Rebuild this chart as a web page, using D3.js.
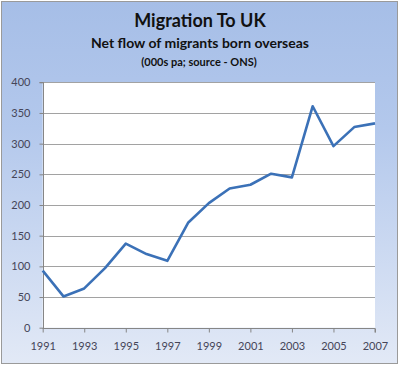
<!DOCTYPE html>
<html><head><meta charset="utf-8">
<script src="https://cdn.jsdelivr.net/npm/d3@7"></script>
<style>body{margin:0;background:#fff}svg{display:block}</style>
</head><body>
<svg id="c" width="400" height="366"></svg>
<script>
const years = [1991,1992,1993,1994,1995,1996,1997,1998,1999,2000,2001,2002,2003,2004,2005,2006,2007];
const migrants = [93,51,64,97,137,120,109,171,203,227,233,251,245,361,296,327,333];
const yTicks = [0,50,100,150,200,250,300,350,400];
const xTickLabels = [1991,1993,1995,1997,1999,2001,2003,2005,2007];
const titles = ["Migration To UK","Net flow of migrants born overseas","(000s pa; source - ONS)"];

const svg = d3.select("#c");
const defs = svg.append("defs");
const g = defs.append("linearGradient").attr("id","bg").attr("x1",0).attr("y1",0).attr("x2",0).attr("y2",1);
g.append("stop").attr("offset","0").attr("stop-color","#a6bee7");
g.append("stop").attr("offset","0.35").attr("stop-color","#b3c8ec");
g.append("stop").attr("offset","1").attr("stop-color","#e2e9f6");

svg.append("rect").attr("x",1.5).attr("y",1.5).attr("width",396).attr("height",362)
  .attr("fill","url(#bg)").attr("stroke","#9a9a9a").attr("stroke-width",1);

const m = {l:42.7, r:375, t:82.3, b:327.7};
const x = d3.scaleLinear().domain([1991,2007]).range([m.l,m.r]);
const y = d3.scaleLinear().domain([0,400]).range([m.b,m.t]);

svg.append("rect").attr("x",m.l).attr("y",m.t).attr("width",m.r-m.l).attr("height",m.b-m.t).attr("fill","#fff");

// gridlines
svg.append("g").selectAll("line").data(yTicks.filter(d=>d>0)).join("line")
  .attr("x1",m.l).attr("x2",m.r).attr("y1",d=>Math.round(y(d))+0.5).attr("y2",d=>Math.round(y(d))+0.5)
  .attr("stroke","#a2a2a2").attr("stroke-width",1);

const lf = "Lato, 'Open Sans', sans-serif";
// y axis
const ya = svg.append("g").attr("transform",`translate(${Math.round(m.l)+0.5},0)`)
  .call(d3.axisLeft(y).tickValues(yTicks).tickSize(4).tickPadding(9));
ya.select(".domain").attr("stroke","#868686").attr("d",`M-4,${Math.round(m.t)+0.5}H0V${Math.round(m.b)+0.5}`);
ya.selectAll(".tick line").attr("stroke","#868686");
ya.selectAll(".tick text").attr("fill","#454558").style("font-family",lf).style("font-size","11px");

// x axis
const xa = svg.append("g").attr("transform",`translate(0,${Math.round(m.b)+0.5})`)
  .call(d3.axisBottom(x).tickValues(xTickLabels).tickFormat(d3.format("d")).tickSize(4).tickPadding(10));
xa.select(".domain").attr("stroke","#868686").attr("d",`M${m.l},0H${m.r}V4`);
xa.selectAll(".tick line").attr("stroke","#868686");
xa.selectAll(".tick text").attr("fill","#454558").style("font-family",lf).style("font-size","11px");

// line
svg.append("path").datum(years.map((yr,i)=>[yr,migrants[i]]))
  .attr("fill","none").attr("stroke","#3b71b7").attr("stroke-width",2.6).attr("stroke-linejoin","round")
  .attr("d",d3.line().x(d=>x(d[0])).y(d=>y(d[1])));

// titles
svg.append("text").attr("x",200).attr("y",26.5).attr("text-anchor","middle")
  .style("font-family",lf).style("font-weight","bold").style("font-size","18px").attr("fill","#111").text(titles[0]);
svg.append("text").attr("x",200).attr("y",47.5).attr("text-anchor","middle")
  .style("font-family",lf).style("font-weight","bold").style("font-size","14px").attr("fill","#111").text(titles[1]);
svg.append("text").attr("x",199).attr("y",66).attr("text-anchor","middle")
  .style("font-family",lf).style("font-weight","bold").style("font-size","11px").attr("fill","#111").text(titles[2]);
</script>
</body></html>
